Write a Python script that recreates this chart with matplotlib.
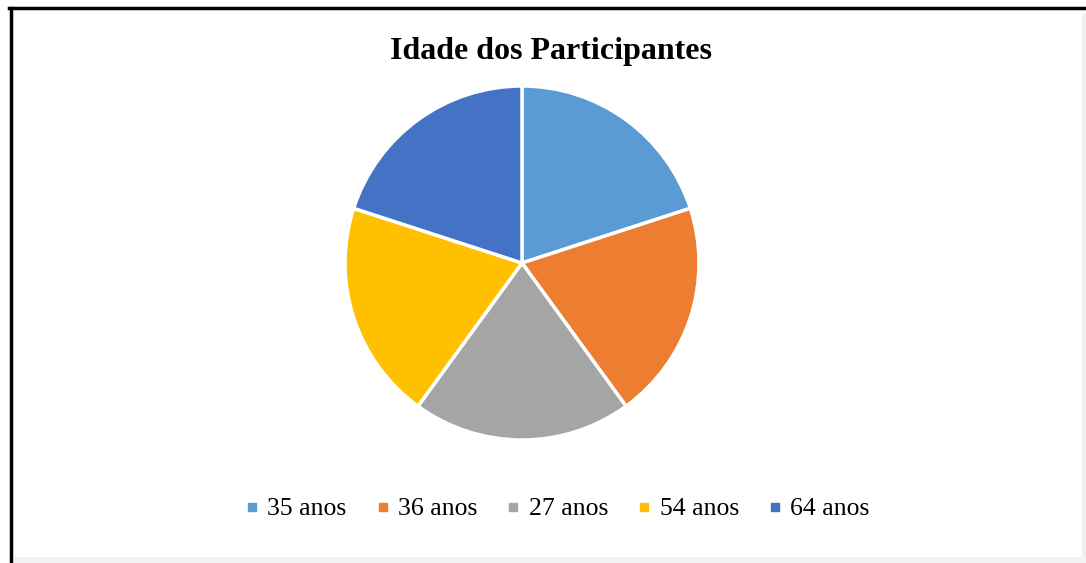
import matplotlib.pyplot as plt
from matplotlib.lines import Line2D
import matplotlib.patches as mpatches

labels = ['35 anos', '36 anos', '27 anos', '54 anos', '64 anos']
values = [1, 1, 1, 1, 1]
colors = ['#5B9BD5', '#ED7D31', '#A5A5A5', '#FFC000', '#4472C4']

plt.rcParams['font.family'] = ['Liberation Serif', 'DejaVu Serif']

fig = plt.figure(figsize=(10.86, 5.63), dpi=100)
fig.patch.set_facecolor('white')

# pie centre at (522, 263) px, radius ~177 px
r = 177
ax = fig.add_axes([(522 - r) / 1086, 1 - (263 + r) / 563, 2 * r / 1086, 2 * r / 563])
ax.pie(values, colors=colors, startangle=90, counterclock=False,
       wedgeprops=dict(edgecolor='white', linewidth=2.5))
ax.set_xlim(-1, 1)
ax.set_ylim(-1, 1)
ax.set_aspect('auto')
ax.axis('off')

fig.text(551 / 1086, 1 - 51 / 563, 'Idade dos Participantes', ha='center', va='center',
         fontsize=23, fontweight='bold')

handles = [Line2D([], [], marker='s', linestyle='none', markersize=6,
                  markerfacecolor=c, markeredgecolor=c) for c in colors]
fig.legend(handles, labels, loc='center', bbox_to_anchor=(557 / 1086, 1 - 509 / 563),
           ncol=5, frameon=False, fontsize=18.5, handlelength=0.6, handletextpad=0.3,
           columnspacing=1.1)

# frame: black top and left edges, soft grey shadow on right and bottom
fig.add_artist(Line2D([10.5 / 1086, 10.5 / 1086], [0, 1 - 7.5 / 563], color='black',
                      linewidth=2.5, transform=fig.transFigure))
fig.add_artist(Line2D([9 / 1086, 1], [1 - 7.5 / 563, 1 - 7.5 / 563], color='black',
                      linewidth=2.5, transform=fig.transFigure))
fig.add_artist(mpatches.Rectangle((1082 / 1086, 0), 4 / 1086, 1 - 14 / 563, color='#f0f0f0',
                                  transform=fig.transFigure, linewidth=0))
fig.add_artist(mpatches.Rectangle((14 / 1086, 0), 1, 6 / 563, color='#f2f2f2',
                                  transform=fig.transFigure, linewidth=0))

fig.savefig('out.png', dpi=100, facecolor='white')
